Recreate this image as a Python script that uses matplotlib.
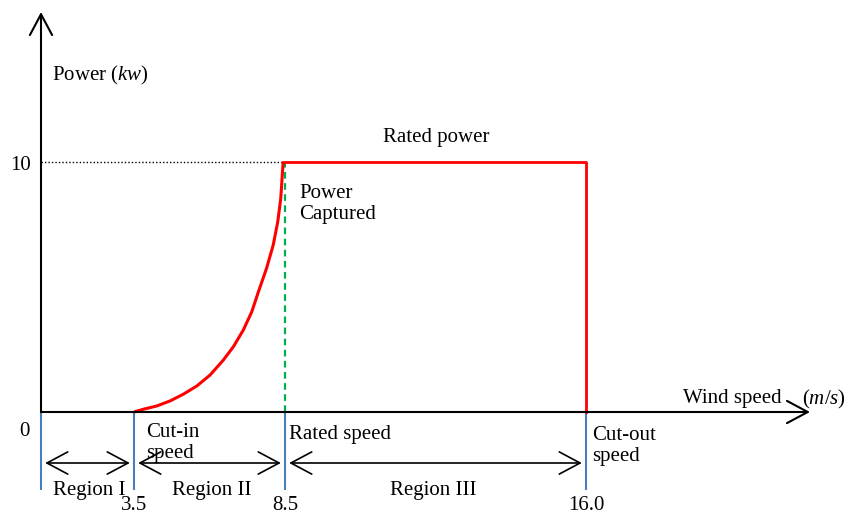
import numpy as np
import matplotlib
matplotlib.use("Agg")
import matplotlib.pyplot as plt

# Wind speeds that mark the regions (m/s) and their labels
speeds = [0.0, 3.5, 8.5, 16.0]
speed_labels = ["0", "3.5", "8.5", "16.0"]
rated_power = 10.0

# Power captured between cut-in and rated speed
curve_speed = [3.5, 3.81, 4.25, 4.69, 5.13, 5.58, 6.02, 6.46, 6.79, 7.12,
               7.40, 7.62, 7.89, 8.11, 8.26, 8.36, 8.41, 8.44]
curve_power = [0.0, 0.11, 0.24, 0.44, 0.71, 1.04, 1.48, 2.08, 2.61, 3.28,
               4.01, 4.81, 5.75, 6.68, 7.61, 8.55, 9.48, 10.0]

region_names = ["Region I", "Region II", "Region III"]

# schematic (non-linear) x axis: where each marked speed sits on the page
W, H = 850, 514
knot_px = np.array([41, 134, 285, 586], float)
knots = np.array(speeds)


def _pw(v, a, b):
    v = np.asarray(v, float)
    out = np.interp(v, a, b)
    lo_slope = (b[1] - b[0]) / (a[1] - a[0])
    hi_slope = (b[-1] - b[-2]) / (a[-1] - a[-2])
    out = np.where(v < a[0], b[0] + (v - a[0]) * lo_slope, out)
    out = np.where(v > a[-1], b[-1] + (v - a[-1]) * hi_slope, out)
    return out


def fwd(v):
    return _pw(v, knots, knot_px)


def inv(p):
    return _pw(p, knot_px, knots)


plt.rcParams['font.family'] = 'Liberation Serif'
plt.rcParams['mathtext.fontset'] = 'custom'
plt.rcParams['mathtext.rm'] = 'Liberation Serif'
plt.rcParams['mathtext.it'] = 'Liberation Serif:italic'

fig = plt.figure(figsize=(W / 100, H / 100), dpi=100)
ax = fig.add_axes([0, 0, 1, 1])
ax.set_xscale('function', functions=(fwd, inv))
ax.set_xlim(float(inv(0)), float(inv(W)))
# 25 px per kW, x axis at 412 px from the top
ax.set_ylim((412 - H) / 25, 412 / 25)
ax.axis('off')

fs = 15
blue = '#4a7ebb'
red = '#ff0000'
green = '#00b050'

# power curve
ax.plot(curve_speed, curve_power, color=red, lw=2.2, solid_joinstyle='round',
        solid_capstyle='butt', zorder=4)
ax.plot([curve_speed[-1], speeds[3], speeds[3]], [rated_power, rated_power, 0],
        color=red, lw=2.0, zorder=4)

# dotted rated power level and dashed rated speed line
ax.plot([speeds[0], curve_speed[-1]], [rated_power, rated_power], color='black',
        lw=1.0, linestyle=(0, (1, 1.5)), zorder=2)
ax.vlines(speeds[2], 0, rated_power, color=green, lw=1.6,
          linestyles=(0, (3, 2)), zorder=3)

# blue region boundaries below the axis
ax.vlines(speeds, (412 - 490) / 25, 0, color=blue, lw=1.5, zorder=3)

# axes with open arrow heads
head = dict(arrowstyle='->,head_length=1.5,head_width=0.8', color='black',
            lw=1.5, shrinkA=0, shrinkB=0, mutation_scale=10)
ax.annotate('', xy=(810 / W, 0), xycoords=('axes fraction', 'data'),
            xytext=(0, 0), textcoords='data', arrowprops=head, zorder=5)
ax.annotate('', xy=(0, 1 - 12 / H), xycoords=('data', 'axes fraction'),
            xytext=(0, 0), textcoords='data', arrowprops=head, zorder=5)

# region double arrows
y_arrow = (412 - 463) / 25
for i in range(len(region_names)):
    a, b = speeds[i], speeds[i + 1]
    ax.annotate('', xy=(b, y_arrow), xytext=(a, y_arrow),
                arrowprops=dict(arrowstyle='<->,head_length=1.5,head_width=0.8',
                                color='black', lw=1.2, shrinkA=3, shrinkB=3,
                                mutation_scale=10))


def label(px, py, s, ha='left'):
    ax.text(px / W, 1 - (py + 3) / H, s, transform=ax.transAxes, ha=ha,
            va='center', fontsize=fs, linespacing=1.2)


region_px = [89, 212, 433]
for name, px in zip(region_names, region_px):
    label(px, 488, name, ha='center')

# speed tick labels
y_tick = (412 - 505) / 25
for s, lab in zip(speeds[1:], speed_labels[1:]):
    ax.text(s, y_tick, lab, ha='center', va='center', fontsize=fs)
label(24, 428, speed_labels[0], ha='center')
ax.text(float(inv(31)), rated_power - 3 / 25, "10", ha='right', va='center',
        fontsize=fs)

label(52, 72, "Power ($kw$)")
label(436, 135, "Rated power", ha='center')
label(299, 201, "Power\nCaptured")
label(146, 440, "Cut-in\nspeed")
label(289, 432, "Rated speed")
label(592, 443, "Cut-out\nspeed")
label(683, 396, "Wind speed")
label(802, 396, "($m/s$)")

fig.savefig("out.png", dpi=100)
